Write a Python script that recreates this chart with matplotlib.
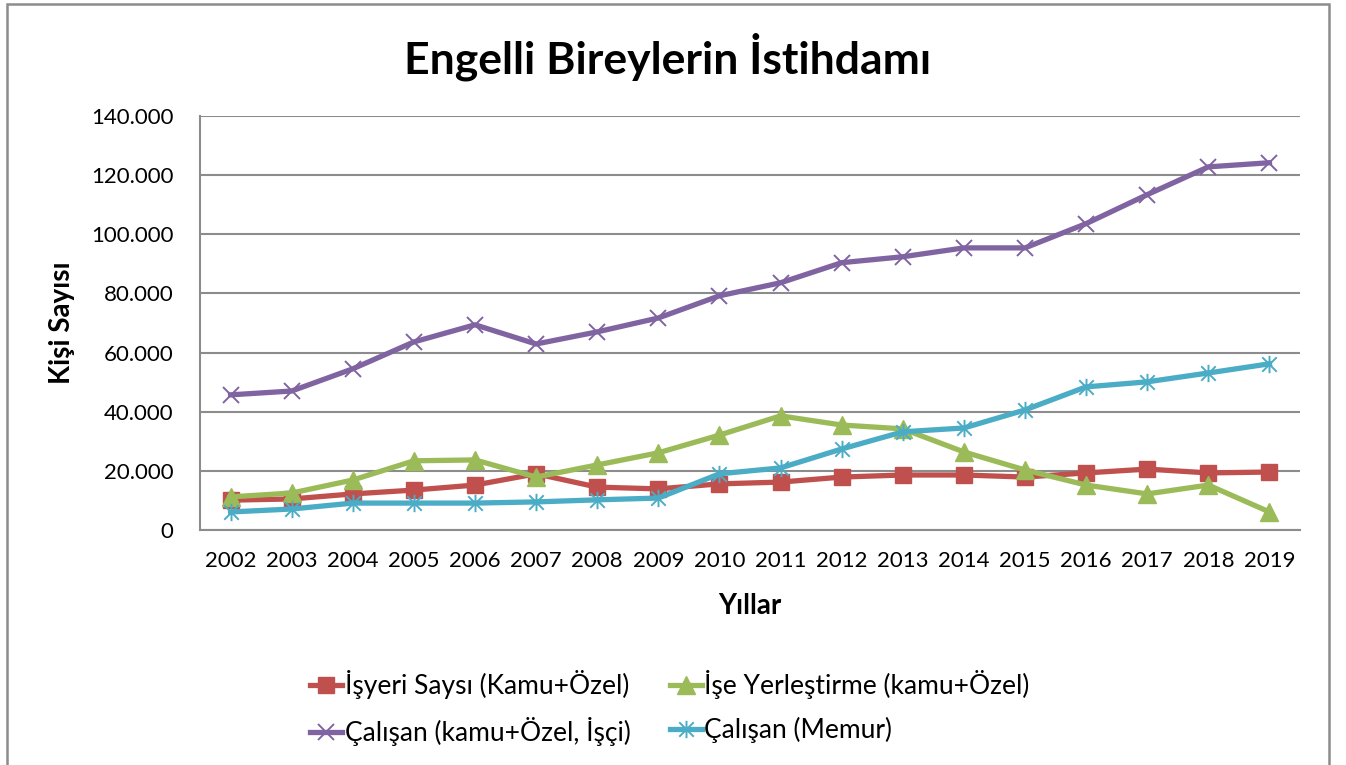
import matplotlib.pyplot as plt
from matplotlib.path import Path
from matplotlib.patches import Rectangle
from matplotlib.ticker import FuncFormatter

plt.rcParams['font.family'] = ['Lato', 'DejaVu Sans']

years = [str(y) for y in range(2002, 2020)]
isyeri = [10100, 10500, 12200, 13500, 15200, 19000, 14500, 13900, 15600,
          16200, 17900, 18600, 18600, 17900, 19300, 20600, 19300, 19600]
ise_yerlestirme = [11200, 12500, 16900, 23400, 23700, 17900, 22000, 26100, 32100,
                   38600, 35500, 34200, 26400, 20300, 15200, 12200, 15200, 6100]
calisan_isci = [45700, 47000, 54500, 63600, 69400, 62900, 67000, 71700, 79200,
                83600, 90400, 92400, 95400, 95400, 103600, 113400, 122800, 124200]
calisan_memur = [6100, 7100, 9100, 9100, 9100, 9500, 10200, 10800, 19000,
                 21000, 27400, 33200, 34500, 40600, 48400, 50100, 53100, 56200]

labels = ['İşyeri Saysı (Kamu+Özel)', 'İşe Yerleştirme (kamu+Özel)',
          'Çalışan (kamu+Özel, İşçi)', 'Çalışan (Memur)']
colors = ['#C0504D', '#9BBB59', '#8064A2', '#4BACC6']

# Excel-style star marker: x with a vertical bar
star = Path([(-1, -1), (1, 1), (-1, 1), (1, -1), (0, -1.2), (0, 1.2)],
            [Path.MOVETO, Path.LINETO, Path.MOVETO, Path.LINETO, Path.MOVETO, Path.LINETO])

fig = plt.figure(figsize=(13.46, 7.65), dpi=100)
ax = fig.add_axes([200 / 1346, 1 - 530 / 765, 1100 / 1346, 414 / 765])

x = range(len(years))
h1, = ax.plot(x, isyeri, color=colors[0], lw=3.8, marker='s', ms=11.5,
              label=labels[0], zorder=3)
h2, = ax.plot(x, ise_yerlestirme, color=colors[1], lw=3.8, marker='^', ms=12.5,
              label=labels[1], zorder=4)
h3, = ax.plot(x, calisan_isci, color=colors[2], lw=3.8, marker='x', ms=11.5, mew=1.4,
              label=labels[2], zorder=3)
h4, = ax.plot(x, calisan_memur, color=colors[3], lw=3.8, marker=star, ms=12.5, mew=1.4,
              mfc='none', label=labels[3], zorder=5)

ax.set_xlim(-0.5, len(years) - 0.5)
ax.set_ylim(0, 140000)
ax.set_yticks(range(0, 140001, 20000))
ax.yaxis.set_major_formatter(FuncFormatter(lambda v, p: f'{int(v):,}'.replace(',', '.')))
ax.set_xticks(list(x))
ax.set_xticklabels(years)
ax.tick_params(length=0, labelsize=16)
ax.tick_params(axis='x', pad=15)
ax.tick_params(axis='y', pad=19)

ax.grid(axis='y', color='#8c8c8c', lw=1.5)
ax.set_axisbelow(True)
for s in ['top', 'right']:
    ax.spines[s].set_visible(False)
for s in ['left', 'bottom']:
    ax.spines[s].set_color('#8c8c8c')
    ax.spines[s].set_linewidth(1.5)

ax.set_xlabel('Yıllar', fontsize=20, fontweight='bold')
ax.set_ylabel('Kişi Sayısı', fontsize=20, fontweight='bold', va='center')
ax.xaxis.set_label_coords(0.5, (530 - 593) / 414)
ax.yaxis.set_label_coords((62 - 200) / 1100, 0.5)
fig.text(668 / 1346, 1 - 57 / 765, 'Engelli Bireylerin İstihdamı', ha='center', va='center',
         fontsize=32, fontweight='bold')

# row-major order: matplotlib fills legend columns first
fig.legend([h1, h3, h2, h4], [labels[0], labels[2], labels[1], labels[3]],
           loc='center', bbox_to_anchor=(670 / 1346, 1 - 708 / 765), ncol=2, frameon=False,
           fontsize=19, handlelength=1.2, handletextpad=0.1, columnspacing=1.5,
           labelspacing=0.7)

fig.patches.append(Rectangle((7 / 1346, -0.05), 1322 / 1346, 1.05 - 4 / 765,
                             transform=fig.transFigure, fill=False,
                             edgecolor='#8c8c8c', lw=1.8))

fig.savefig('out.png', dpi=100)
